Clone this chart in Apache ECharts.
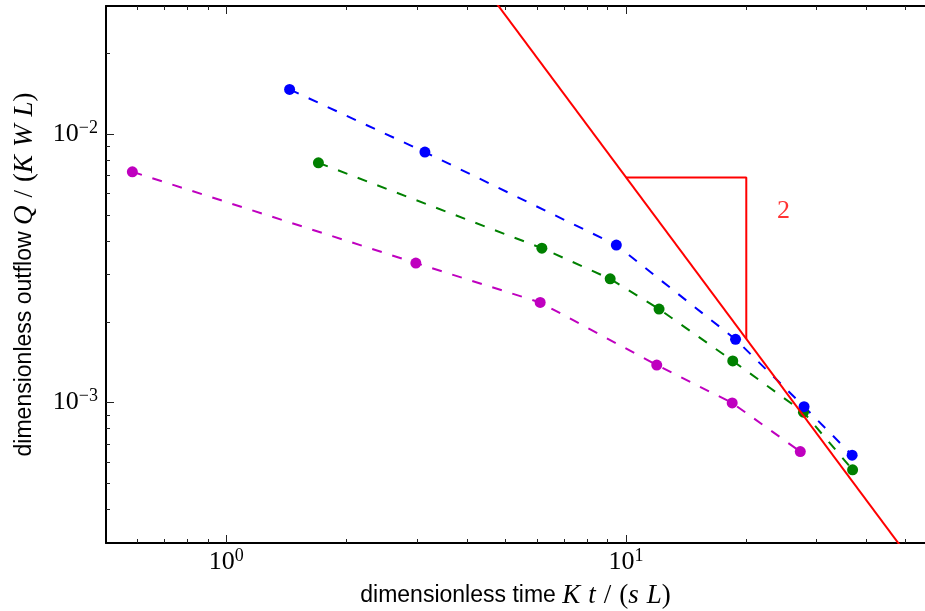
<!DOCTYPE html>
<html>
<head>
<meta charset="utf-8">
<script src="https://cdn.jsdelivr.net/npm/echarts@6/dist/echarts.min.js"></script>
<style>
html,body{margin:0;padding:0;background:#fff;}
#chart{width:925px;height:611px;}
</style>
</head>
<body>
<div id="chart"></div>
<script>
// ---- data ----
const blueT = [1.44, 3.14, 9.46, 18.8, 27.9, 36.8];
const blueQ = [0.01467, 0.00857, 0.00386, 0.00172, 0.000966, 0.000637];
const greenT = [1.70, 6.16, 9.13, 12.1, 18.5, 27.8, 36.9];
const greenQ = [0.00782, 0.00376, 0.00289, 0.00223, 0.00143, 0.000921, 0.000562];
const magentaT = [0.582, 2.98, 6.10, 11.94, 18.44, 27.3];
const magentaQ = [0.00724, 0.00331, 0.00236, 0.00138, 0.000997, 0.000657];
// slope -2 reference line and triangle
const slopeT = [4.5, 60];
const slopeQ = [0.0341, 0.000192];
const triT = [10, 20, 20];
const triQ = [0.0069, 0.0069, 0.001725];
const slopeLabel = ['2'];
const slopeLabelT = [24.77];
const slopeLabelQ = [0.005165];
// ticks
const xMajor = [1, 10];
const xMinor = [0.6, 0.7, 0.8, 0.9, 2, 3, 4, 5, 6, 7, 8, 9, 20, 30, 40, 50];
const yMajor = [0.001, 0.01];
const yMinor = [0.0004, 0.0005, 0.0006, 0.0007, 0.0008, 0.0009,
                0.002, 0.003, 0.004, 0.005, 0.006, 0.007, 0.008, 0.009, 0.02];

const pairs = (a, b) => a.map((v, i) => [v, b[i]]);

const X_MIN = 0.5, X_MAX = 56, Y_MIN = 0.0003, Y_MAX = 0.03;

const serif = 'Liberation Serif';
const sans = 'Liberation Sans';

const supRich = {
  b: {fontFamily: serif, fontSize: 26, lineHeight: 30, color: '#000'},
  s: {fontFamily: serif, fontSize: 18, lineHeight: 18, verticalAlign: 'top', color: '#000'}
};
function expFmt(v) {
  const e = Math.round(Math.log10(v));
  const es = e < 0 ? '\u2212' + (-e) : String(e);
  return '{b|10}{s|' + es + '}';
}

const nameRich = {
  t: {fontFamily: sans, fontSize: 23, color: '#000'},
  i: {fontFamily: serif, fontStyle: 'italic', fontSize: 27, color: '#000'},
  m: {fontFamily: serif, fontSize: 27, color: '#000'},
  g: {fontFamily: serif, fontSize: 27, width: 8}
};

function xAx(pos, major, withLabel, isMajor) {
  return {
    type: 'log', logBase: 10, min: X_MIN, max: X_MAX, position: pos, gridIndex: 0,
    axisLine: {show: isMajor, lineStyle: {color: '#000', width: 2}},
    axisTick: {show: true, inside: true, length: isMajor ? 8 : 4,
      customValues: major, lineStyle: {color: '#222', width: 1}},
    axisLabel: withLabel ? {show: true, customValues: major, formatter: expFmt, rich: supRich, margin: 4} : {show: false},
    splitLine: {show: false}, minorTick: {show: false}
  };
}
function yAx(major, withLabel, isMajor) {
  return {
    type: 'log', logBase: 10, min: Y_MIN, max: Y_MAX, position: 'left', gridIndex: 0,
    axisLine: {show: isMajor, lineStyle: {color: '#000', width: 2}},
    axisTick: {show: true, inside: true, length: isMajor ? 8 : 4,
      customValues: major, lineStyle: {color: '#222', width: 1}},
    axisLabel: withLabel ? {show: true, customValues: major, formatter: expFmt, rich: supRich, margin: 8} : {show: false},
    splitLine: {show: false}, minorTick: {show: false}
  };
}

const xMain = xAx('bottom', xMajor, true, true);
xMain.name = '{t|dimensionless time }{i|K}{g| }{i|t}{g| }{m|/}{g| }{m|(}{i|s}{g| }{i|L}{m|)}';
xMain.nameLocation = 'middle';
xMain.nameGap = 39;
xMain.nameTextStyle = {rich: nameRich};

const yMain = yAx(yMajor, true, true);
yMain.name = '{t|dimensionless outflow }{i|Q}{g| }{m|/}{g| }{m|(}{i|K}{g| }{i|W}{g| }{i|L}{m|)}';
yMain.nameLocation = 'middle';
yMain.nameRotate = 90;
yMain.nameGap = 68;
yMain.nameTextStyle = {rich: nameRich};

const dash = [10, 11];
function dataSeries(t, q, color) {
  return {
    type: 'line', xAxisIndex: 0, yAxisIndex: 0, data: pairs(t, q),
    symbol: 'circle', symbolSize: 11, showSymbol: true, showAllSymbol: true,
    itemStyle: {color: color},
    lineStyle: {color: color, width: 2, type: dash},
    emphasis: {disabled: true}, z: 3
  };
}

const option = {
  animation: false,
  backgroundColor: '#fff',
  grid: {left: 106, right: 0, top: 6, bottom: 68, containLabel: false, outerBoundsMode: 'none'},
  xAxis: [xMain, xAx('bottom', xMinor, false, false), xAx('top', xMajor, false, true), xAx('top', xMinor, false, false)],
  yAxis: [yMain, yAx(yMinor, false, false)],
  series: [
    dataSeries(magentaT, magentaQ, '#bf00bf'),
    dataSeries(greenT, greenQ, '#008000'),
    dataSeries(blueT, blueQ, '#0000ff'),
    {
      type: 'line', data: pairs(slopeT, slopeQ), symbol: 'none', clip: true,
      lineStyle: {color: '#ff0000', width: 2}, emphasis: {disabled: true}, z: 4
    },
    {
      type: 'line', data: pairs(triT, triQ), symbol: 'none', clip: true,
      lineStyle: {color: '#ff0000', width: 2}, emphasis: {disabled: true}, z: 4
    },
    {
      type: 'scatter', data: pairs(slopeLabelT, slopeLabelQ), symbolSize: 1,
      itemStyle: {color: 'rgba(0,0,0,0)'},
      label: {show: true, position: 'inside', formatter: () => slopeLabel[0],
        color: '#ff0000', fontFamily: serif, fontSize: 26},
      emphasis: {disabled: true}, z: 5
    }
  ]
};

const chart = echarts.init(document.getElementById('chart'), null, {renderer: 'canvas'});
chart.setOption(option);
</script>
</body>
</html>
